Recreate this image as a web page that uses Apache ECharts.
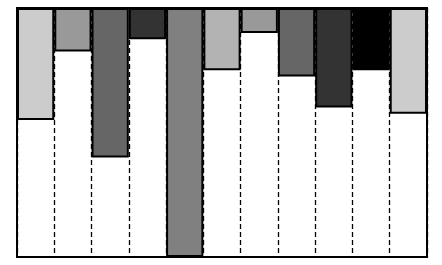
<!DOCTYPE html>
<html><head><meta charset="utf-8">
<script src="https://cdn.jsdelivr.net/npm/echarts@6/dist/echarts.min.js"></script>
<style>html,body{margin:0;padding:0;background:#fff}#c{width:442px;height:265px}</style>
</head><body><div id="c"></div>
<script>
const categories = ['A','B','C','D','E','F','G','H','I','J','K'];
const values = [45, 17.5, 60, 12.5, 100, 25, 10, 27.5, 40, 25, 42.5];
const colors = ['#cccccc','#999999','#666666','#333333','#808080','#b3b3b3','#999999','#666666','#333333','#000000','#cccccc'];

const chart = echarts.init(document.getElementById('c'), null, {renderer:'canvas'});
chart.setOption({
  animation: false,
  grid: {left: 17, right: 15, top: 8, bottom: 8, show: true, borderColor: '#000', borderWidth: 2, backgroundColor: '#fff'},
  xAxis: {
    type: 'category', data: categories,
    axisLabel: {show: false}, axisTick: {show: false},
    axisLine: {show: false},
    splitLine: {show: true, lineStyle: {color: '#000', width: 1.3, type: [5, 3]}}
  },
  yAxis: {
    type: 'value', inverse: true, min: 0, max: 100,
    axisLabel: {show: false}, axisTick: {show: false}, axisLine: {show: false},
    splitLine: {show: false}
  },
  series: [{
    type: 'bar',
    barCategoryGap: '0%',
    data: values.map((v, i) => ({value: v, itemStyle: {color: colors[i]}})),
    itemStyle: {borderColor: '#000', borderWidth: 2}
  }]
});
</script></body></html>
